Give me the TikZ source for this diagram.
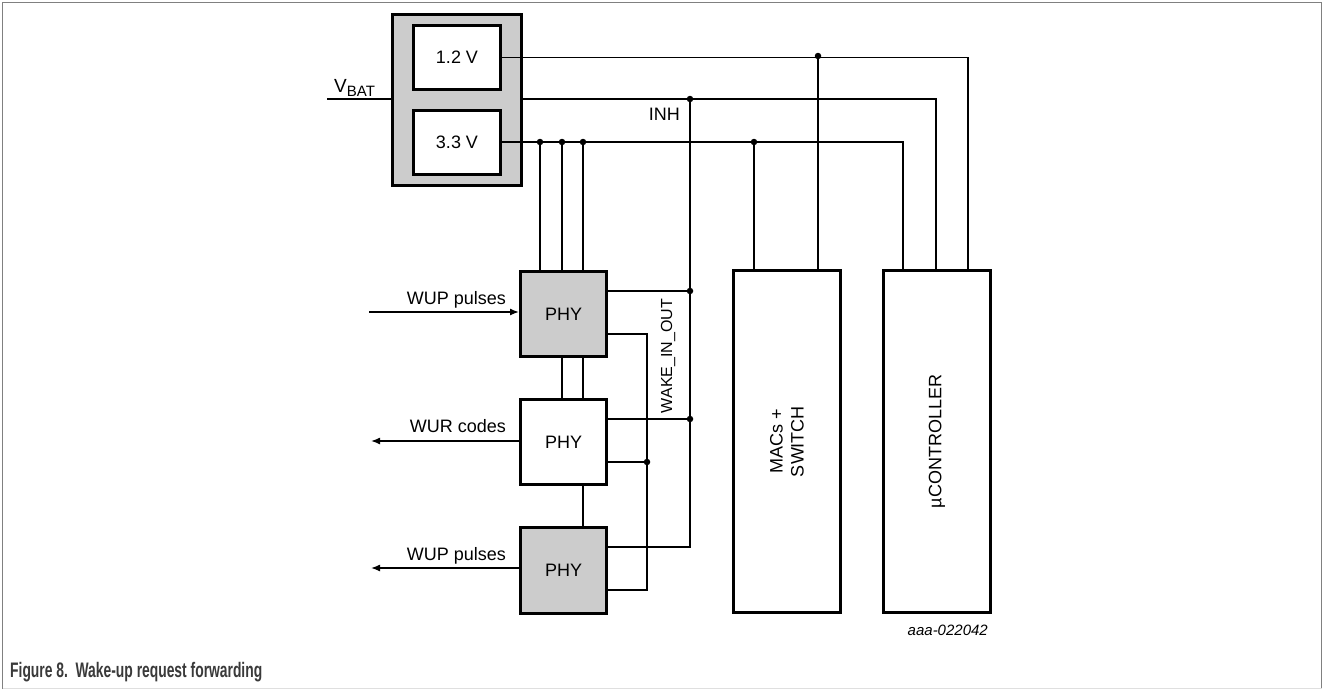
\documentclass[tikz,border=0pt]{standalone}
\usepackage{fontspec}
\usepackage{graphicx}
\setmainfont{Liberation Sans}
\usetikzlibrary{arrows.meta,calc}
\definecolor{boxgray}{HTML}{CCCCCC}
\definecolor{capgray}{HTML}{3A3A3A}
\tikzset{
  blk/.style={draw=black, line width=3pt, inner sep=0pt, anchor=north west, font=\fontsize{18}{21}\selectfont},
  wire/.style={line width=1.4pt, line join=miter},
  dotn/.style={circle, fill=black, inner sep=0pt, minimum size=6.5pt},
  lbl/.style={inner sep=0pt, font=\fontsize{18}{21}\selectfont},
  arr/.style={wire, -{Latex[length=9pt,width=7pt]}}
}
\begin{document}
\begin{tikzpicture}[x=1pt,y=-1pt]
\useasboundingbox (0,0) rectangle (1323,689);
% frame
\draw[gray, line width=1.5pt] (2.5,689) -- (2.5,2.5) -- (1321.5,2.5) -- (1321.5,689);
\draw[gray!25, line width=1pt] (2.5,688) -- (1321.5,688);
% power block
\node[blk, fill=boxgray, minimum width=129pt, minimum height=171pt] (pwr) at (391,13) {};
\node[blk, fill=white, minimum width=87pt, minimum height=64pt] (v12) at (412,24) {1.2 V};
\node[blk, fill=white, minimum width=87pt, minimum height=64pt] (v33) at (412,109) {3.3 V};
% PHYs
\node[blk, fill=boxgray, minimum width=86pt, minimum height=85pt] (phy1) at (519,270) {PHY};
\node[blk, fill=white, minimum width=86pt, minimum height=85pt] (phy2) at (519,398) {PHY};
\node[blk, fill=boxgray, minimum width=86pt, minimum height=86pt] (phy3) at (519,526) {PHY};
% big blocks
\node[blk, fill=white, minimum width=107pt, minimum height=342pt] (mac) at (732,269) {};
\node[blk, fill=white, minimum width=107pt, minimum height=342pt] (uc) at (882,269) {};
\node[lbl, rotate=90, align=center] (mact) at (mac.center) {MACs +\\SWITCH};
\node[lbl, rotate=90] (uct) at (uc.center) {µCONTROLLER};
% VBAT
\coordinate (vb) at (327,99);
\draw[wire] (vb) -- (vb -| pwr.west);
\node[lbl, anchor=base west] (vbatl) at (334,92) {\fontsize{19}{22}\selectfont V\textsubscript{\fontsize{15}{17}\selectfont BAT}};
% 1.2 V rail
\coordinate (d12) at (818,56);
\draw[wire] (v12.east) -| ([xshift=86pt]uc.north west);
\draw[wire] (d12) -- ([xshift=86pt]mac.north west);
\node[dotn] (d12n) at (d12) {};
% INH rail
\coordinate (dinh) at (690,99);
\draw[wire] (dinh -| pwr.east) -| ([xshift=54pt]uc.north west);
\node[dotn] (dinhn) at (dinh) {};
\node[lbl, anchor=base east] (inhl) at (680,120) {INH};
% 3.3 V rail
\coordinate (d33a) at (540,142);
\coordinate (d33b) at (562,142);
\coordinate (d33c) at (583,142);
\coordinate (d33m) at (754,142);
\draw[wire] (d33a -| v33.east) -| ([xshift=21pt]uc.north west);
\draw[wire] (d33a) -- ([xshift=21pt]phy1.north west);
\draw[wire] (d33b) -- ([xshift=43pt]phy1.north west);
\draw[wire] (d33c) -- ([xshift=64pt]phy1.north west);
\draw[wire] (d33m) -- ([xshift=22pt]mac.north west);
\foreach \c in {d33a,d33b,d33c,d33m} \node[dotn] at (\c) {};
% PHY interconnects
\draw[wire] ([xshift=43pt]phy1.south west) -- ([xshift=43pt]phy2.north west);
\draw[wire] ([xshift=64pt]phy1.south west) -- ([xshift=64pt]phy2.north west);
\draw[wire] ([xshift=64pt]phy2.south west) -- ([xshift=64pt]phy3.north west);
% WAKE_IN_OUT bus (x=690) from INH
\coordinate (w1) at (690,291);
\coordinate (w2) at (690,419);
\coordinate (w3) at (690,547);
\draw[wire] (dinh) -- (w3) -- (w3 -| phy3.east);
\draw[wire] (w1 -| phy1.east) -- (w1);
\draw[wire] (w2 -| phy2.east) -- (w2);
\node[dotn] at (w1) {};
\node[dotn] at (w2) {};
% local bus (x=647)
\coordinate (l1c) at (647,334);
\coordinate (l2) at (647,462);
\coordinate (l3c) at (647,590);
\draw[wire] (l1c -| phy1.east) -- (l1c) -- (l3c) -- (l3c -| phy3.east);
\draw[wire] (l2 -| phy2.east) -- (l2);
\node[dotn] at (l2) {};
\node[inner sep=0pt, rotate=90, font=\fontsize{16}{19}\selectfont] (wio) at (668,356) {WAKE\_IN\_OUT};
% external arrows
\coordinate (a1) at (369,312);
\coordinate (a2) at (371,441);
\coordinate (a3) at (371,568);
\draw[arr] (a1) -- (a1 -| phy1.west);
\draw[arr] (a2 -| phy2.west) -- (a2);
\draw[arr] (a3 -| phy3.west) -- (a3);
\node[lbl, anchor=base east] (l1) at (506,304) {WUP pulses};
\node[lbl, anchor=base east] (l2t) at (506,432) {WUR codes};
\node[lbl, anchor=base east] (l3) at (506,560) {WUP pulses};
% id
\node[inner sep=0pt, anchor=base east, font=\fontsize{15}{17}\selectfont\itshape] (id) at (988,635) {aaa-022042};
% caption
\node[inner sep=0pt, anchor=base west, text=capgray] (cap) at (10,677)
  {\scalebox{0.66}[1]{\fontsize{21}{24}\selectfont\bfseries Figure 8.\ \ Wake-up request forwarding}};
\end{tikzpicture}
\end{document}
